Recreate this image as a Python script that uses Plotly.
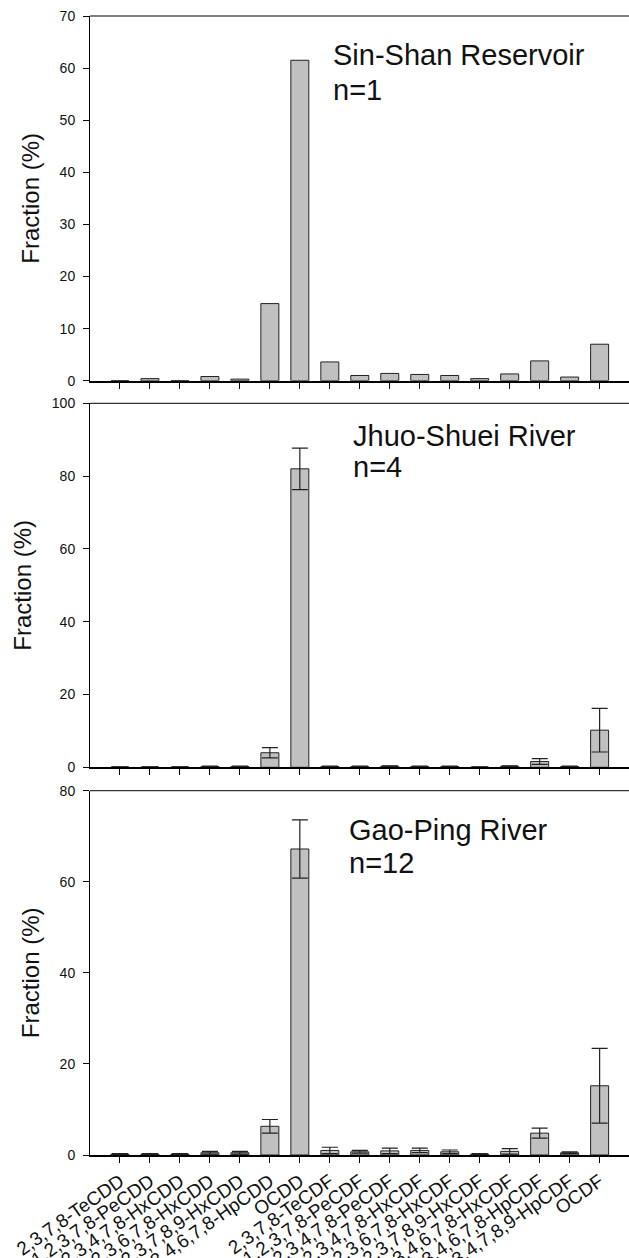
import plotly.graph_objects as go

categories = ["2,3,7,8-TeCDD", "1,2,3,7,8-PeCDD", "1,2,3,4,7,8-HxCDD", "1,2,3,6,7,8-HxCDD",
              "1,2,3,7,8,9-HxCDD", "1,2,3,4,6,7,8-HpCDD", "OCDD", "2,3,7,8-TeCDF",
              "1,2,3,7,8-PeCDF", "2,3,4,7,8-PeCDF", "1,2,3,4,7,8-HxCDF", "1,2,3,6,7,8-HxCDF",
              "1,2,3,7,8,9-HxCDF", "2,3,4,6,7,8-HxCDF", "1,2,3,4,6,7,8-HpCDF",
              "1,2,3,4,7,8,9-HpCDF", "OCDF"]

sinshan = [0.0, 0.4, 0.0, 0.8, 0.3, 14.8, 61.5, 3.6, 1.0, 1.4, 1.2, 1.0, 0.4, 1.3, 3.8, 0.7, 7.0]

jhuo = [0.1, 0.1, 0.1, 0.2, 0.2, 4.0, 82.0, 0.2, 0.2, 0.3, 0.2, 0.2, 0.05, 0.3, 1.6, 0.2, 10.2]
jhuo_err = [0.05, 0.05, 0.05, 0.1, 0.1, 1.4, 5.7, 0.1, 0.1, 0.1, 0.1, 0.1, 0.05, 0.1, 0.8, 0.1, 6.0]

gao = [0.2, 0.2, 0.2, 0.5, 0.5, 6.3, 67.2, 1.0, 0.7, 0.9, 1.0, 0.7, 0.2, 0.8, 4.8, 0.5, 15.2]
gao_err = [0.1, 0.1, 0.1, 0.3, 0.3, 1.5, 6.4, 0.7, 0.3, 0.6, 0.5, 0.4, 0.1, 0.6, 1.1, 0.2, 8.2]

panel_titles = ["Sin-Shan Reservoir", "Jhuo-Shuei River", "Gao-Ping River"]
panel_n = ["n=1", "n=4", "n=12"]
y_max = [70, 100, 80]
y_dtick = [10, 20, 20]

FONT = "Arial, Liberation Sans, sans-serif"
BAR_FILL = "#c0c0c0"
EDGE = "#222222"

W, H = 629, 1258
ML, MR, MT, MB = 90, 0, 16, 103
plot_h = H - MT - MB
px = lambda y: (H - MB - y) / plot_h
domains = [[px(380.7), 1.0], [px(767.3), px(403.3)], [0.0, px(790.7)]]

fig = go.Figure()

series = [(sinshan, None), (jhuo, jhuo_err), (gao, gao_err)]
for i, (vals, errs) in enumerate(series):
    ax = "" if i == 0 else str(i + 1)
    kw = dict(
        x=categories, y=vals, width=0.6,
        marker=dict(color=BAR_FILL, line=dict(color=EDGE, width=1)),
        xaxis="x" + ax, yaxis="y" + ax, showlegend=False,
    )
    if errs is not None:
        kw["error_y"] = dict(type="data", array=errs, visible=True,
                             color=EDGE, thickness=1.2, width=8)
    fig.add_trace(go.Bar(**kw))

layout = dict(
    width=W, height=H,
    margin=dict(l=ML, r=MR, t=MT, b=MB, pad=0),
    paper_bgcolor="white", plot_bgcolor="white",
    font=dict(family=FONT, color="#111111"),
    bargap=0.4,
)

title_pos = [(334, 65, 100), (354, 445.7, 477.3), (350, 840, 872.5)]

annotations = []
shapes = []
for i in range(3):
    ax = "" if i == 0 else str(i + 1)
    xname = "xaxis" + ax
    yname = "yaxis" + ax
    layout[xname] = dict(
        domain=[0, 1], anchor="y" + ax,
        type="category", range=[-1, 16.98],
        categoryorder="array", categoryarray=categories,
        showline=True, linecolor="#000000", linewidth=2,
        ticks="outside", ticklen=6, tickwidth=1, tickcolor="#000000",
        showgrid=False, zeroline=False,
        showticklabels=(i == 2),
        tickangle=-35,
        tickfont=dict(family=FONT, size=19, color="#111111"),
        automargin=False,
    )
    layout[yname] = dict(
        domain=domains[i], anchor="x" + ax,
        range=[0, y_max[i]], dtick=y_dtick[i], tick0=0,
        showline=True, linecolor="#000000", linewidth=1,
        ticks="outside", ticklen=6, tickwidth=1, tickcolor="#000000",
        ticklabelstandoff=5,
        showgrid=False, zeroline=False,
        tickfont=dict(family=FONT, size=14, color="#111111"),
        title=dict(text="Fraction (%)", font=dict(family=FONT, size=24, color="#111111"),
                   standoff=13),
        automargin=False,
    )
    # top frame line of each panel
    shapes.append(dict(type="line", xref="x" + ax + " domain", yref="y" + ax + " domain",
                       x0=0, x1=1, y0=1, y1=1, line=dict(color="#000000", width=1)))
    tx, b1, b2 = title_pos[i]
    for text, base in ((panel_titles[i], b1), (panel_n[i], b2)):
        annotations.append(dict(
            text=text, xref="paper", yref="paper",
            x=(tx - ML) / (W - ML - MR), y=(H - MB - base) / plot_h,
            xanchor="left", yanchor="bottom", showarrow=False,
            font=dict(family=FONT, size=29, color="#111111"),
            xshift=-3, yshift=-8,
        ))

layout["annotations"] = annotations
layout["shapes"] = shapes
fig.update_layout(**layout)

fig.write_html("out.html",
               config={"displayModeBar": False},
               post_script="document.body.style.margin='0';document.body.style.overflow='hidden';")
